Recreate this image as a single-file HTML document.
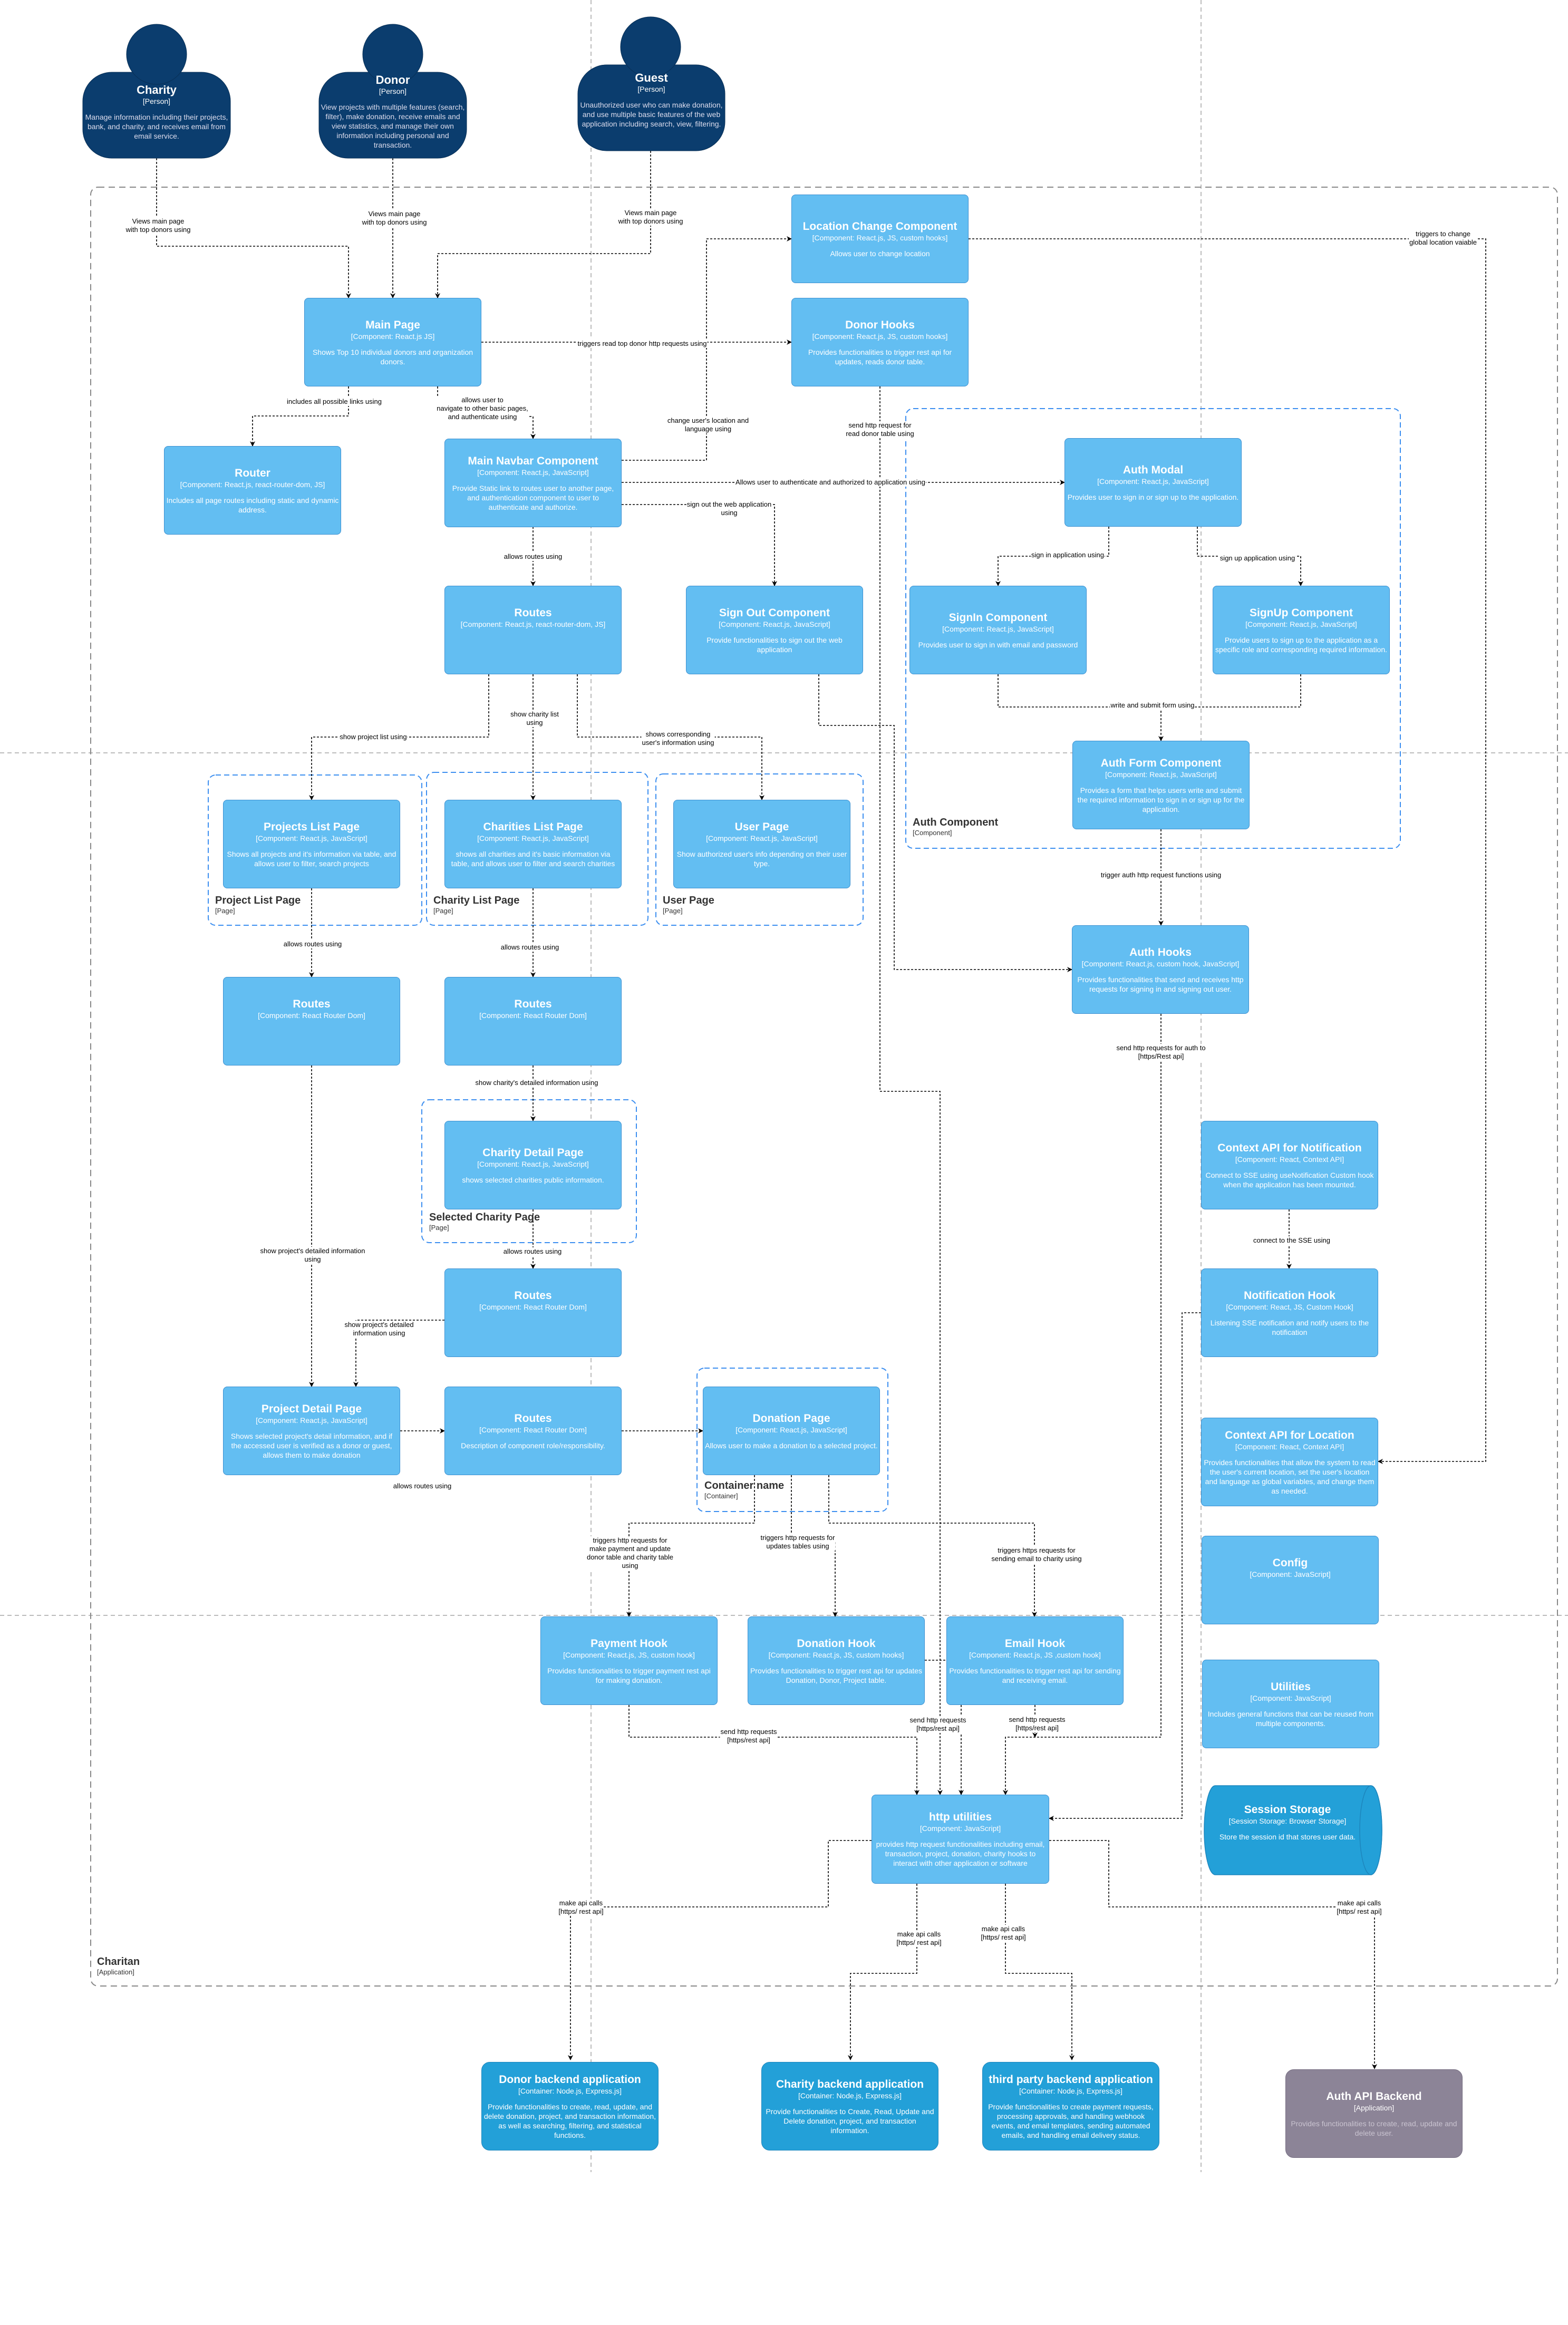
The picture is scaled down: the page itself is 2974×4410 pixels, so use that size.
<!DOCTYPE html>
<html><head><meta charset="utf-8"><style>
*{margin:0;padding:0;box-sizing:border-box}
body{width:2974px;height:4410px;background:#fff;position:relative;overflow:hidden;font-family:"Liberation Sans",Arial,sans-serif}
svg.l{position:absolute;left:0;top:0}
.b{position:absolute;width:336px;height:168px;background:#63BEF2;border:1.5px solid #3B8FD0;border-radius:8px;color:#fff;display:flex;flex-direction:column;align-items:center;justify-content:center;text-align:center;padding:0 3px}
.b .t{font-weight:bold;font-size:21px;line-height:25px}
.b .s{font-size:14px;line-height:18px}
.b .d{font-size:14px;line-height:18px;margin-top:12px}
.b .sp{height:48px}
.c{background:#23A0D8;border-color:#1D86BD;border-radius:16px}
.g{background:#8C8497;border-color:#756d80;border-radius:16px}
.g .d{color:#c9c3d0}
.p{position:absolute;color:#fff;text-align:center}
.lb{position:absolute;transform:translate(-50%,-50%);background:#fff;font-size:13px;line-height:16px;text-align:center;white-space:nowrap;color:#000;padding:0 1px}
.bl{position:absolute;color:#333}
.bl .t{font-weight:bold;font-size:20px;line-height:23px}
.bl .s{font-size:13px;line-height:16px}
</style></head><body>
<svg class="l" width="2974" height="4410">
<defs><marker id="a" markerWidth="10" markerHeight="10" refX="9" refY="5" orient="auto" markerUnits="userSpaceOnUse"><path d="M0,0 L10,5 L0,10 L3,5 z" fill="#000"/></marker></defs>
<g stroke="#bbb" stroke-width="2" stroke-dasharray="8 6" fill="none">
<line x1="1121" y1="0" x2="1121" y2="4120"/><line x1="2278" y1="0" x2="2278" y2="4120"/>
<line x1="0" y1="1428" x2="2974" y2="1428"/><line x1="0" y1="3064" x2="2974" y2="3064"/>
</g>
<rect x="172" y="355" width="2782" height="3412" rx="14" fill="none" stroke="#888" stroke-width="2" stroke-dasharray="12 8"/>
<g fill="none" stroke="#3D8FF0" stroke-width="2" stroke-dasharray="10 6">
<rect x="1718" y="775" width="938" height="834" rx="14"/>
<rect x="395" y="1470" width="405" height="285" rx="14"/>
<rect x="809" y="1465" width="420" height="290" rx="14"/>
<rect x="1244" y="1468" width="393" height="287" rx="14"/>
<rect x="800" y="2086" width="407" height="271" rx="14"/>
<rect x="1322" y="2595" width="362" height="272" rx="14"/>
</g>
<g fill="none" stroke="#000" stroke-width="1.6" stroke-dasharray="4 3" marker-end="url(#a)">
<path d="M297,300 V467 H661 V565"/>
<path d="M745,300 V565"/>
<path d="M1234,286 V481 H830 V565"/>
<path d="M661,733 V789 H479 V846"/>
<path d="M830,733 V790 H1011 V832"/>
<path d="M913,649 H1501"/>
<path d="M1179,873 H1340 V453 H1501"/>
<path d="M1179,915 H2019"/>
<path d="M1179,957 H1469 V1111"/>
<path d="M1011,999 V1111"/>
<path d="M1837,453 H2818 V2772 H2614"/>
<path d="M1669,733 V2070 H1783 V3404"/>
<path d="M1553,1279 V1376 H1696 V1839 H2033"/>
<path d="M2103,999 V1055 H1893 V1111"/>
<path d="M2271,999 V1055 H2467 V1111"/>
<path d="M1893,1279 V1341 H2202 V1405"/>
<path d="M2467,1279 V1341 H2202"/>
<path d="M2202,1573 V1755"/>
<path d="M2202,1923 V3295 H1907 V3404"/>
<path d="M1963,3234 V3295"/>
<path d="M1754,3149 H1823 V3404"/>
<path d="M1193,3234 V3295 H1739 V3404"/>
<path d="M2278,2490 H2242 V3449 H1990"/>
<path d="M2445,2294 V2406"/>
<path d="M927,1279 V1398 H591 V1517"/>
<path d="M1011,1279 V1517"/>
<path d="M1095,1279 V1398 H1445 V1517"/>
<path d="M591,1685 V1853"/>
<path d="M1011,1685 V1853"/>
<path d="M1011,2021 V2126"/>
<path d="M1011,2294 V2406"/>
<path d="M591,2021 V2630"/>
<path d="M843,2504 H675 V2630"/>
<path d="M759,2714 H843"/>
<path d="M1179,2714 H1333"/>
<path d="M1431,2798 V2889 H1193 V3066"/>
<path d="M1501,2798 V2925 H1584 V3066"/>
<path d="M1572,2798 V2889 H1962 V3066"/>
<path d="M1653,3491 H1571 V3617 H1082 V3907"/>
<path d="M1739,3573 V3743 H1613 V3907"/>
<path d="M1907,3573 V3743 H2033 V3907"/>
<path d="M1990,3491 H2103 V3617 H2607 V3924"/>
</g>
<g fill="#0B3D6E" stroke="#082f55" stroke-width="1">
<rect x="157" y="137" width="280" height="163" rx="55"/><circle cx="297" cy="103" r="57"/>
<rect x="605" y="137" width="280" height="163" rx="55"/><circle cx="745" cy="103" r="57"/>
<rect x="1096" y="123" width="279" height="163" rx="55"/><circle cx="1234" cy="89" r="57"/>
</g>
<path d="M2305,3387 H2600 A21,84.5 0 0 1 2600,3556 H2305 A21,84.5 0 0 1 2305,3387 Z" fill="#23A0D8" stroke="#1D86BD" stroke-width="1.5"/>
<ellipse cx="2600" cy="3471.5" rx="21" ry="84.5" fill="#23A0D8" stroke="#1D86BD" stroke-width="1.5"/>
</svg>

<div class="p" style="left:157px;top:158px;width:280px"><div style="font-weight:bold;font-size:22px;line-height:26px">Charity</div><div style="font-size:14px;line-height:17px">[Person]</div><div style="font-size:14px;line-height:18px;margin-top:12px;color:#dde">Manage information including their projects, bank, and charity, and receives email from email service.</div></div>
<div class="p" style="left:605px;top:139px;width:280px"><div style="font-weight:bold;font-size:22px;line-height:26px">Donor</div><div style="font-size:14px;line-height:17px">[Person]</div><div style="font-size:14px;line-height:18px;margin-top:12px;color:#dde">View projects with multiple features (search, filter), make donation, receive emails and view statistics, and manage their own information including personal and transaction.</div></div>
<div class="p" style="left:1096px;top:135px;width:279px"><div style="font-weight:bold;font-size:22px;line-height:26px">Guest</div><div style="font-size:14px;line-height:17px">[Person]</div><div style="font-size:14px;line-height:18px;margin-top:12px;color:#dde">Unauthorized user who can make donation, and use multiple basic features of the web application including search, view, filtering.</div></div>

<div class="b" style="left:577px;top:565px"><div class="t">Main Page</div><div class="s">[Component: React.js JS]</div><div class="d">Shows Top 10 individual donors and organization donors.</div></div>
<div class="b" style="left:1501px;top:369px"><div class="t">Location Change Component</div><div class="s">[Component: React.js, JS, custom hooks]</div><div class="d">Allows user to change location</div></div>
<div class="b" style="left:1501px;top:565px"><div class="t">Donor Hooks</div><div class="s">[Component: React.js, JS, custom hooks]</div><div class="d">Provides functionalities to trigger rest api for updates, reads donor table.</div></div>
<div class="b" style="left:311px;top:846px"><div class="t">Router</div><div class="s">[Component: React.js, react-router-dom, JS]</div><div class="d">Includes all page routes including static and dynamic address.</div></div>
<div class="b" style="left:843px;top:832px"><div class="t">Main Navbar Component</div><div class="s">[Component: React.js, JavaScript]</div><div class="d">Provide Static link to routes user to another page, and authentication component to user to authenticate and authorize.</div></div>
<div class="b" style="left:2019px;top:831px"><div class="t">Auth Modal</div><div class="s">[Component: React.js, JavaScript]</div><div class="d">Provides user to sign in or sign up to the application.</div></div>
<div class="b" style="left:843px;top:1111px"><div class="t">Routes</div><div class="s">[Component: React.js, react-router-dom, JS]</div><div class="sp"></div></div>
<div class="b" style="left:1301px;top:1111px"><div class="t">Sign Out Component</div><div class="s">[Component: React.js, JavaScript]</div><div class="d">Provide functionalities to sign out the web application</div></div>
<div class="b" style="left:1725px;top:1111px"><div class="t">SignIn Component</div><div class="s">[Component: React.js, JavaScript]</div><div class="d">Provides user to sign in with email and password</div></div>
<div class="b" style="left:2300px;top:1111px"><div class="t">SignUp Component</div><div class="s">[Component: React.js, JavaScript]</div><div class="d">Provide users to sign up to the application as a specific role and corresponding required information.</div></div>
<div class="b" style="left:2034px;top:1405px"><div class="t">Auth Form Component</div><div class="s">[Component: React.js, JavaScript]</div><div class="d">Provides a form that helps users write and submit the required information to sign in or sign up for the application.</div></div>
<div class="b" style="left:423px;top:1517px"><div class="t">Projects List Page</div><div class="s">[Component: React.js, JavaScript]</div><div class="d">Shows all projects and it's information via table, and allows user to filter, search projects</div></div>
<div class="b" style="left:843px;top:1517px"><div class="t">Charities List Page</div><div class="s">[Component: React.js, JavaScript]</div><div class="d">shows all charities and it's basic information via table, and allows user to filter and search charities</div></div>
<div class="b" style="left:1277px;top:1517px"><div class="t">User Page</div><div class="s">[Component: React.js, JavaScript]</div><div class="d">Show authorized user's info depending on their user type.</div></div>
<div class="b" style="left:423px;top:1853px"><div class="t">Routes</div><div class="s">[Component: React Router Dom]</div><div class="sp"></div></div>
<div class="b" style="left:843px;top:1853px"><div class="t">Routes</div><div class="s">[Component: React Router Dom]</div><div class="sp"></div></div>
<div class="b" style="left:843px;top:2126px"><div class="t">Charity Detail Page</div><div class="s">[Component: React.js, JavaScript]</div><div class="d">shows selected charities public information.</div></div>
<div class="b" style="left:843px;top:2406px"><div class="t">Routes</div><div class="s">[Component: React Router Dom]</div><div class="sp"></div></div>
<div class="b" style="left:423px;top:2630px"><div class="t">Project Detail Page</div><div class="s">[Component: React.js, JavaScript]</div><div class="d">Shows selected project's detail information, and if the accessed user is verified as a donor or guest, allows them to make donation</div></div>
<div class="b" style="left:843px;top:2630px"><div class="t">Routes</div><div class="s">[Component: React Router Dom]</div><div class="d">Description of component role/responsibility.</div></div>
<div class="b" style="left:1333px;top:2630px"><div class="t">Donation Page</div><div class="s">[Component: React.js, JavaScript]</div><div class="d">Allows user to make a donation to a selected project.</div></div>
<div class="b" style="left:2033px;top:1755px"><div class="t">Auth Hooks</div><div class="s">[Component: React.js, custom hook, JavaScript]</div><div class="d">Provides functionalities that send and receives http requests for signing in and signing out user.</div></div>
<div class="b" style="left:2278px;top:2126px"><div class="t">Context API for Notification</div><div class="s">[Component: React, Context API]</div><div class="d">Connect to SSE using useNotification Custom hook when the application has been mounted.</div></div>
<div class="b" style="left:2278px;top:2406px"><div class="t">Notification Hook</div><div class="s">[Component: React, JS, Custom Hook]</div><div class="d">Listening SSE notification and notify users to the notification</div></div>
<div class="b" style="left:2278px;top:2689px"><div class="t">Context API for Location</div><div class="s">[Component: React, Context API]</div><div class="d">Provides functionalities that allow the system to read the user's current location, set the user's location and language as global variables, and change them as needed.</div></div>
<div class="b" style="left:2279px;top:2913px"><div class="t">Config</div><div class="s">[Component: JavaScript]</div><div class="sp"></div></div>
<div class="b" style="left:2280px;top:3148px"><div class="t">Utilities</div><div class="s">[Component: JavaScript]</div><div class="d">Includes general functions that can be reused from multiple components.</div></div>
<div class="b" style="left:1025px;top:3066px"><div class="t">Payment Hook</div><div class="s">[Component: React.js, JS, custom hook]</div><div class="d">Provides functionalities to trigger payment rest api for making donation.</div></div>
<div class="b" style="left:1418px;top:3066px"><div class="t">Donation Hook</div><div class="s">[Component: React.js, JS, custom hooks]</div><div class="d">Provides functionalities to trigger rest api for updates Donation, Donor, Project table.</div></div>
<div class="b" style="left:1795px;top:3066px"><div class="t">Email Hook</div><div class="s">[Component: React.js, JS ,custom hook]</div><div class="d">Provides functionalities to trigger rest api for sending and receiving email.</div></div>
<div class="b" style="left:1653px;top:3404px;width:337px;height:169px"><div class="t">http utilities</div><div class="s">[Component: JavaScript]</div><div class="d">provides http request functionalities including email, transaction, project, donation, charity hooks to interact with other application or software</div></div>
<div class="p" style="left:2284px;top:3420px;width:316px"><div style="font-weight:bold;font-size:21px;line-height:25px">Session Storage</div><div style="font-size:14px;line-height:18px">[Session Storage: Browser Storage]</div><div style="font-size:14px;line-height:18px;margin-top:12px">Store the session id that stores user data.</div></div>
<div class="b c" style="left:913px;top:3911px"><div class="t">Donor backend application</div><div class="s">[Container: Node.js, Express.js]</div><div class="d">Provide functionalities to create, read, update, and delete donation, project, and transaction information, as well as searching, filtering, and statistical functions.</div></div>
<div class="b c" style="left:1444px;top:3911px"><div class="t">Charity backend application</div><div class="s">[Container: Node.js, Express.js]</div><div class="d">Provide functionalities to Create, Read, Update and Delete donation, project, and transaction information.</div></div>
<div class="b c" style="left:1863px;top:3911px"><div class="t">third party backend application</div><div class="s">[Container: Node.js, Express.js]</div><div class="d">Provide functionalities to create payment requests, processing approvals, and handling webhook events, and email templates, sending automated emails, and handling email delivery status.</div></div>
<div class="b g" style="left:2438px;top:3925px"><div class="t">Auth API Backend</div><div class="s">[Application]</div><div class="d">Provides functionalities to create, read, update and delete user.</div></div>

<div class="bl" style="left:184px;top:3710px"><div class="t">Charitan</div><div class="s">[Application]</div></div>
<div class="bl" style="left:1731px;top:1549px"><div class="t">Auth Component</div><div class="s">[Component]</div></div>
<div class="bl" style="left:408px;top:1697px"><div class="t">Project List Page</div><div class="s">[Page]</div></div>
<div class="bl" style="left:822px;top:1697px"><div class="t">Charity List Page</div><div class="s">[Page]</div></div>
<div class="bl" style="left:1257px;top:1697px"><div class="t">User Page</div><div class="s">[Page]</div></div>
<div class="bl" style="left:814px;top:2298px"><div class="t">Selected Charity Page</div><div class="s">[Page]</div></div>
<div class="bl" style="left:1336px;top:2807px"><div class="t">Container name</div><div class="s">[Container]</div></div>

<div class="lb" style="left:300px;top:428px">Views main page<br>with top donors using</div>
<div class="lb" style="left:748px;top:414px">Views main page<br>with top donors using</div>
<div class="lb" style="left:1234px;top:412px">Views main page<br>with top donors using</div>
<div class="lb" style="left:634px;top:762px">includes all possible links using</div>
<div class="lb" style="left:915px;top:775px">allows user to<br>navigate to other basic pages,<br>and authenticate using</div>
<div class="lb" style="left:1218px;top:652px">triggers read top donor http requests using</div>
<div class="lb" style="left:1343px;top:806px">change user's location and<br>language using</div>
<div class="lb" style="left:1575px;top:915px">Allows user to authenticate and authorized to application using</div>
<div class="lb" style="left:1383px;top:965px">sign out the web application<br>using</div>
<div class="lb" style="left:1011px;top:1056px">allows routes using</div>
<div class="lb" style="left:2737px;top:452px">triggers to change<br>global location vaiable</div>
<div class="lb" style="left:1669px;top:815px">send http request for<br>read donor table using</div>
<div class="lb" style="left:2025px;top:1053px">sign in application using</div>
<div class="lb" style="left:2385px;top:1059px">sign up application using</div>
<div class="lb" style="left:2186px;top:1338px">write and submit form using</div>
<div class="lb" style="left:2202px;top:1660px">trigger auth http request functions using</div>
<div class="lb" style="left:2202px;top:1996px">send http requests for auth to<br>[https/Rest api]</div>
<div class="lb" style="left:2450px;top:2353px">connect to the SSE using</div>
<div class="lb" style="left:708px;top:1398px">show project list using</div>
<div class="lb" style="left:1014px;top:1363px">show charity list<br>using</div>
<div class="lb" style="left:1286px;top:1401px">shows corresponding<br>user's information using</div>
<div class="lb" style="left:593px;top:1791px">allows routes using</div>
<div class="lb" style="left:1005px;top:1797px">allows routes using</div>
<div class="lb" style="left:1018px;top:2054px">show charity's detailed information using</div>
<div class="lb" style="left:1010px;top:2374px">allows routes using</div>
<div class="lb" style="left:593px;top:2381px">show project's detailed information<br>using</div>
<div class="lb" style="left:719px;top:2521px">show project's detailed<br>information using</div>
<div class="lb" style="left:801px;top:2819px">allows routes using</div>
<div class="lb" style="left:1195px;top:2946px">triggers http requests for<br>make payment and update<br>donor table and charity table<br>using</div>
<div class="lb" style="left:1513px;top:2925px">triggers http requests for<br>updates tables using</div>
<div class="lb" style="left:1966px;top:2949px">triggers https requests for<br>sending email to charity using</div>
<div class="lb" style="left:1420px;top:3293px">send http requests<br>[https/rest api]</div>
<div class="lb" style="left:1779px;top:3271px">send http requests<br>[https/rest api]</div>
<div class="lb" style="left:1967px;top:3270px">send http requests<br>[https/rest api]</div>
<div class="lb" style="left:1102px;top:3618px">make api calls<br>[https/ rest api]</div>
<div class="lb" style="left:1743px;top:3677px">make api calls<br>[https/ rest api]</div>
<div class="lb" style="left:1903px;top:3667px">make api calls<br>[https/ rest api]</div>
<div class="lb" style="left:2578px;top:3618px">make api calls<br>[https/ rest api]</div>
</body></html>
